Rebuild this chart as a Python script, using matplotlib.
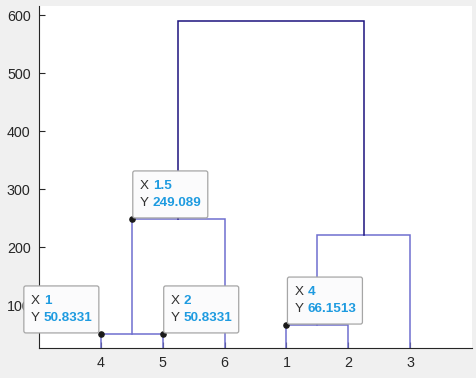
import matplotlib
matplotlib.use("Agg")
import matplotlib.pyplot as plt
from matplotlib.patches import FancyBboxPatch
from matplotlib.transforms import IdentityTransform

# leaf order shown on the x axis
leaf_labels = ["4", "5", "6", "1", "2", "3"]

# links: (x of left child, x of right child, child heights, merge height)
link_left = [1.0, 4.0, 1.5, 4.5, 2.25]
link_right = [2.0, 5.0, 3.0, 6.0, 5.25]
link_h_left = [0.0, 0.0, 50.8331, 66.1513, 249.089]
link_h_right = [0.0, 0.0, 0.0, 0.0, 221.8]
link_h = [50.8331, 66.1513, 249.089, 221.8, 590.0]
link_col = ["#6f6fcf", "#6f6fcf", "#6f6fcf", "#6f6fcf", "#1c137e"]

# data tips
tip_x = [1.0, 2.0, 1.5, 4.0]
tip_y = [50.8331, 50.8331, 249.089, 66.1513]
tip_label = ["1", "2", "1.5", "4"]
tip_side = ["left", "right", "right", "right"]

plt.rcParams["font.family"] = ["Liberation Sans", "DejaVu Sans"]

fig = plt.figure(figsize=(4.77, 3.78), dpi=100)
fig.patch.set_facecolor("#f0f0f0")
ax = fig.add_axes([39 / 477, 30 / 378, 433 / 477, 342.5 / 378])
ax.set_facecolor("white")

for i in range(len(link_h)):
    ax.plot([link_left[i], link_left[i], link_right[i], link_right[i]],
            [link_h_left[i], link_h[i], link_h[i], link_h_right[i]],
            color=link_col[i], lw=1.1, solid_joinstyle="miter")

ax.set_xlim(0, 7)
ax.set_ylim(26.6, 617)
ax.set_xticks(range(1, 7))
ax.set_xticklabels(leaf_labels)
ax.set_yticks([100, 200, 300, 400, 500, 600])
for s in ["top", "right"]:
    ax.spines[s].set_visible(False)
for s in ["left", "bottom"]:
    ax.spines[s].set_color("#262626")
    ax.spines[s].set_linewidth(0.8)
ax.tick_params(direction="in", length=4, width=0.8, colors="#262626",
               labelsize=10.3, pad=6)

ax.scatter(tip_x, tip_y, s=14, color="#1a1a1a", zorder=5, clip_on=False)

fig.canvas.draw()
bw, bh = 75, 47
for x, y, lab, side in zip(tip_x, tip_y, tip_label, tip_side):
    px, py = ax.transData.transform((x, y))
    left = px - bw - 2 if side == "left" else px + 1
    bottom = py + 1
    box = FancyBboxPatch((left, bottom), bw, bh,
                         boxstyle="round,pad=0,rounding_size=2",
                         facecolor="#fbfbfc", edgecolor="#a6a6a6", lw=0.9,
                         transform=IdentityTransform(), zorder=6)
    fig.patches.append(box)
    top = bottom + bh
    fig.text(left + 7, top - 15, "X", transform=IdentityTransform(),
             fontsize=9.7, color="#303030", va="center", ha="left", zorder=7)
    fig.text(left + 20, top - 15, lab, transform=IdentityTransform(),
             fontsize=9.7, color="#1e9be0", fontweight="bold",
             va="center", ha="left", zorder=7)
    fig.text(left + 7, top - 32, "Y", transform=IdentityTransform(),
             fontsize=9.7, color="#303030", va="center", ha="left", zorder=7)
    fig.text(left + 20, top - 32, "%.6g" % y, transform=IdentityTransform(),
             fontsize=9.7, color="#1e9be0", fontweight="bold",
             va="center", ha="left", zorder=7)

fig.savefig("out.png", dpi=100, facecolor=fig.get_facecolor())
